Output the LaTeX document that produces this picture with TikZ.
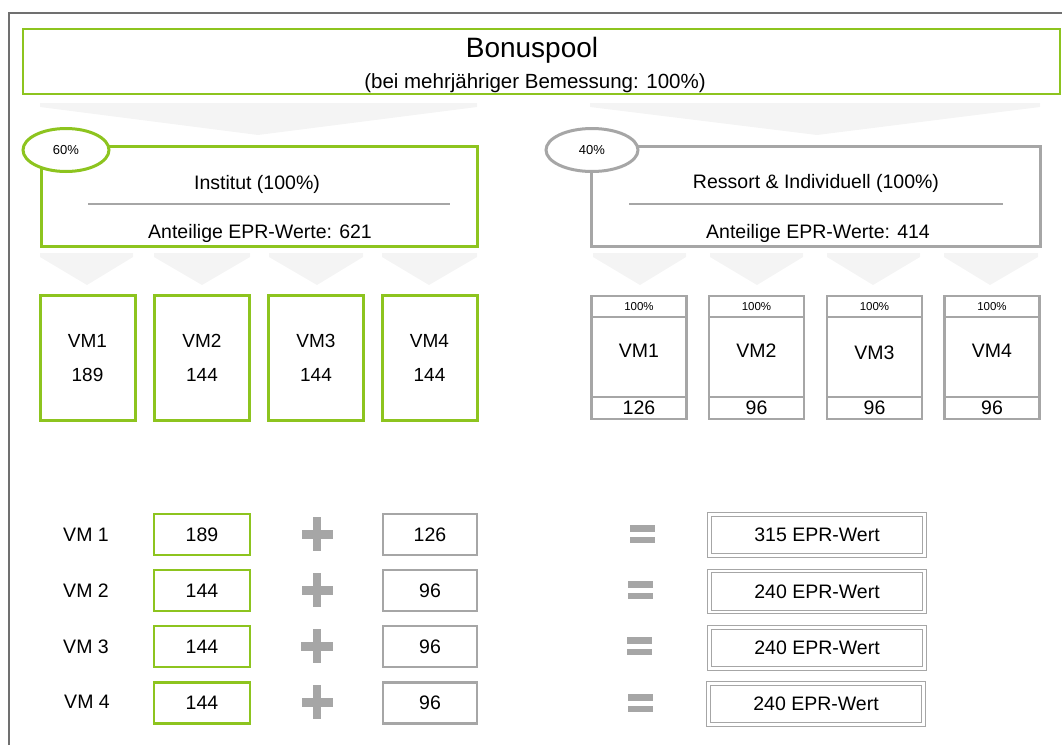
\documentclass[tikz,border=0pt]{standalone}
\usepackage{fontspec}
\setmainfont{Liberation Sans}
\usetikzlibrary{shapes.geometric}

\definecolor{boxgreen}{RGB}{141,196,31}
\definecolor{boxgray}{RGB}{166,166,166}
\definecolor{chevgray}{RGB}{244,244,244}
\definecolor{framegray}{RGB}{112,112,112}

\tikzset{
	txt/.style={font=\fontsize{19.5}{22}\selectfont, inner sep=0pt},
	small/.style={font=\fontsize{13}{15}\selectfont, inner sep=0pt},
	greenbox/.style={draw=boxgreen, line width=3pt, fill=white, inner sep=0pt},
	graybox/.style={draw=boxgray, line width=2.5pt, fill=white, inner sep=0pt},
	vmgreen/.style={greenbox, minimum width=95pt, minimum height=125pt, align=center, font=\fontsize{19}{34}\selectfont},
	vmgray/.style={graybox, minimum width=95pt},
	sumgreen/.style={greenbox, line width=2.5pt, minimum width=96pt, minimum height=41pt, txt},
	sumgray/.style={graybox, minimum width=94pt, minimum height=41pt, txt},
	result/.style={draw=boxgray, line width=1pt, double=white, double distance=2.5pt, minimum width=215pt, minimum height=41pt, txt},
	share/.style={ellipse, line width=3pt, fill=white, minimum width=86pt, minimum height=43pt, small}
}

\begin{document}
\begin{tikzpicture}[x=1pt, y=-1pt]

	\useasboundingbox (0,0) rectangle (1062,745);

	\draw[framegray, line width=1.5pt] (9,745) -- (9,13) -- (1062,13);

	\node[draw=boxgreen, line width=2pt, minimum width=1037pt, minimum height=65pt] (pool) at (541,61) {};
	\node[font=\fontsize{28}{30}\selectfont, anchor=base, inner sep=0pt] (title) at (532,57) {Bonuspool};
	\node[font=\fontsize{20.5}{22}\selectfont, inner sep=0pt, anchor=base] (subtitle) at (535,88) {(bei mehrjähriger Bemessung: 100\%)};

	\fill[chevgray] (40,103) -- (477,103) -- (477,107) -- (258,135) -- (40,107) -- cycle;
	\fill[chevgray] (590,103) -- (1040,103) -- (1040,107) -- (817,135) -- (590,107) -- cycle;

	\node[greenbox, minimum width=436pt, minimum height=100pt] (inst) at (259,196) {};
	\node[txt, anchor=base] (insttitle) at (257,189) {Institut (100\%)};
	\draw[boxgray, line width=2pt] (88,204) -- (450,204);
	\node[txt, anchor=base] (instval) at (260,238) {Anteilige EPR-Werte: 621};

	\node[graybox, line width=3pt, minimum width=449pt, minimum height=100pt] (ress) at (815.5,196) {};
	\node[txt, anchor=base] (resstitle) at (816,188) {Ressort \& Individuell (100\%)};
	\draw[boxgray, line width=2pt] (629,204) -- (1003,204);
	\node[txt, anchor=base] (ressval) at (818,238) {Anteilige EPR-Werte: 414};

	\node[share, draw=boxgreen] (inshare) at (66,150) {60\%};
	\node[share, draw=boxgray, minimum width=92pt] (resshare) at (592,150) {40\%};

	\fill[chevgray] (40,253) -- (133,253) -- (133,257) -- (87,285) -- (40,257) -- cycle;
	\fill[chevgray] (154,253) -- (250,253) -- (250,257) -- (202,285) -- (154,257) -- cycle;
	\fill[chevgray] (269,253) -- (363,253) -- (363,257) -- (317,285) -- (269,257) -- cycle;
	\fill[chevgray] (382,253) -- (477,253) -- (477,257) -- (429,285) -- (382,257) -- cycle;

	\fill[chevgray] (593,253) -- (686,253) -- (686,257) -- (640,285) -- (593,257) -- cycle;
	\fill[chevgray] (710,253) -- (803,253) -- (803,257) -- (757,285) -- (710,257) -- cycle;
	\fill[chevgray] (827,253) -- (920,253) -- (920,257) -- (873,285) -- (827,257) -- cycle;
	\fill[chevgray] (944,253) -- (1038,253) -- (1038,257) -- (990,285) -- (944,257) -- cycle;

	\node[vmgreen] (g1) at (87.5,358) {VM1\\189};
	\node[vmgreen] (g2) at (202,358) {VM2\\144};
	\node[vmgreen] (g3) at (316,358) {VM3\\144};
	\node[vmgreen] (g4) at (429.5,358) {VM4\\144};

	\node[vmgray, minimum height=21pt, small, font=\fontsize{11.5}{13}\selectfont] (rh1) at (639,306.5) {100\%};
	\node[vmgray, minimum height=80pt] (rb1) at (639,357) {};
	\node[vmgray, minimum height=22pt, txt] (rf1) at (639,408) {126};
	\node[txt, anchor=base] (rv1) at (639,357) {VM1};

	\node[vmgray, minimum height=21pt, small, font=\fontsize{11.5}{13}\selectfont] (rh2) at (756.5,306.5) {100\%};
	\node[vmgray, minimum height=80pt] (rb2) at (756.5,357) {};
	\node[vmgray, minimum height=22pt, txt] (rf2) at (756.5,408) {96};
	\node[txt, anchor=base] (rv2) at (756.5,357) {VM2};

	\node[vmgray, minimum height=21pt, small, font=\fontsize{11.5}{13}\selectfont] (rh3) at (874.5,306.5) {100\%};
	\node[vmgray, minimum height=80pt] (rb3) at (874.5,357) {};
	\node[vmgray, minimum height=22pt, txt] (rf3) at (874.5,408) {96};
	\node[txt, anchor=base] (rv3) at (874.5,359) {VM3};

	\node[vmgray, minimum height=21pt, small, font=\fontsize{11.5}{13}\selectfont] (rh4) at (992,306.5) {100\%};
	\node[vmgray, minimum height=80pt] (rb4) at (992,357) {};
	\node[vmgray, minimum height=22pt, txt] (rf4) at (992,408) {96};
	\node[txt, anchor=base] (rv4) at (992,357) {VM4};

	\node[txt] (l1) at (86,535) {VM 1};
	\node[sumgreen] (s1) at (202,534.5) {189};
	\fill[boxgray] (302,529.5) rectangle (333,538.5);
	\fill[boxgray] (313,517) rectangle (321,551);
	\node[sumgray] (t1) at (430,534.5) {126};
	\fill[boxgray] (630,525) rectangle (655,532);
	\fill[boxgray] (630,537) rectangle (655,543);
	\node[result] (r1) at (817,535) {315 EPR-Wert};

	\node[txt] (l2) at (86,591) {VM 2};
	\node[sumgreen] (s2) at (202,590.5) {144};
	\fill[boxgray] (302,585.5) rectangle (333,594.5);
	\fill[boxgray] (313,573) rectangle (321,607);
	\node[sumgray] (t2) at (430,590.5) {96};
	\fill[boxgray] (628,581) rectangle (653,588);
	\fill[boxgray] (628,593) rectangle (653,599);
	\node[result] (r2) at (817,591.5) {240 EPR-Wert};

	\node[txt] (l3) at (86,647) {VM 3};
	\node[sumgreen] (s3) at (202,646.5) {144};
	\fill[boxgray] (301,641.5) rectangle (333,650.5);
	\fill[boxgray] (313,629) rectangle (321,663);
	\node[sumgray] (t3) at (430,646.5) {96};
	\fill[boxgray] (627,637) rectangle (652,644);
	\fill[boxgray] (627,649) rectangle (652,655);
	\node[result] (r3) at (817,648) {240 EPR-Wert};

	\node[txt] (l4) at (87,702) {VM 4};
	\node[sumgreen] (s4) at (202,703) {144};
	\fill[boxgray] (302,697.5) rectangle (333,706.5);
	\fill[boxgray] (313,685) rectangle (321,719);
	\node[sumgray] (t4) at (430,703) {96};
	\fill[boxgray] (628,694) rectangle (653,701);
	\fill[boxgray] (628,706) rectangle (653,712);
	\node[result] (r4) at (816,704) {240 EPR-Wert};

\end{tikzpicture}
\end{document}
